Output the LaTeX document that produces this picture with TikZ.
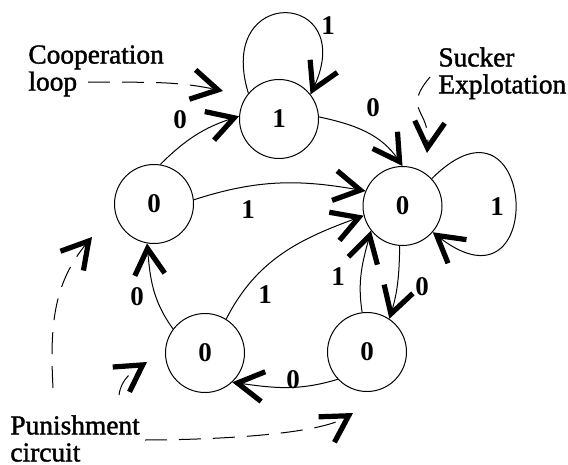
\documentclass[tikz,border=0pt]{standalone}
\usepackage{fontspec}
\setmainfont{Liberation Serif}
\newfontfamily\heavyserif{Liberation Serif}[FakeBold=1.5]
\usetikzlibrary{arrows.meta}
\tikzset{
  st/.style={circle,draw,line width=0.5pt,minimum size=39.5pt,inner sep=0pt,
    font=\fontsize{13.5}{13.5}\selectfont\bfseries},
  lbl/.style={inner sep=0pt,font=\fontsize{13.5}{13.5}\selectfont\bfseries},
  note/.style={inner sep=0pt,align=left,anchor=north west,
    font=\heavyserif\fontsize{13.7}{13.5}\selectfont},
  trans/.style={line width=0.5pt,-{Straight Barb[length=13pt,width=15pt,line width=2.6pt]}},
  hint/.style={trans,dash pattern=on 11pt off 6pt},
}

\begin{document}
\begin{tikzpicture}[x=0.5pt,y=-0.5pt]
    \useasboundingbox (0,0) rectangle (568,465);
    \node[st] (coop) at (279,119) {1};
    \node[st] (wait) at (154,204) {0};
    \node[st] (exploit) at (402.5,206) {0};
    \node[st] (punA) at (205,353) {0};
    \node[st] (punB) at (367,352) {0};
    \draw[trans] (coop.140) to[out=107,in=65,distance=57.5pt] (coop.38);
    \draw[trans] (exploit.43) to[out=45,in=-38,distance=74pt] (exploit.-41);
    \draw[trans] (wait.81) to[out=45,in=198] (coop.176);
    \draw[trans] (wait.6) to[out=18,in=170] (exploit.158);
    \draw[trans] (coop.3) to[out=-12,in=124] (exploit.90);
    \draw[trans] (punA.143) to[out=126,in=-85] (wait.260);
    \draw[trans] (punA.58) to[out=63,in=200] (exploit.194);
    \draw[trans] (punB.97) to[out=99,in=-105] (exploit.218);
    \draw[trans] (exploit.266) to[out=-91,in=73] (punB.56);
    \draw[trans] (punB.223) to[out=197,in=-8] (punA.313);
    \node[lbl] (loopc) at (328,26) {1};
    \node[lbl] (waitc) at (180,120) {0};
    \node[lbl] (coopd) at (373,108) {0};
    \node[lbl] (waitd) at (248,210) {1};
    \node[lbl] (loopd) at (497,207) {1};
    \node[lbl] (punAw) at (137,297) {0};
    \node[lbl] (punAx) at (265,295) {1};
    \node[lbl] (punBx) at (338,277) {1};
    \node[lbl] (exploitB) at (422,287) {0};
    \node[lbl] (punBA) at (293,380) {0};
    \node[note] (coopnote) at (28,45) {Cooperation\\loop};
    \node[note] (suckernote) at (438,47) {Sucker\\Explotation};
    \node[note] (punishnote) at (10,415) {Punishment\\circuit};
    \coordinate (coopa) at (88,82);
    \coordinate (coopb) at (223,91);
    \coordinate (suckera) at (430,77);
    \coordinate (suckerb) at (427,153);
    \coordinate (puna1) at (53,388);
    \coordinate (punb1) at (92,237);
    \coordinate (puna2) at (119,395);
    \coordinate (punb2) at (147,362);
    \coordinate (puna3) at (145,440);
    \coordinate (punb3) at (353,413);
    \draw[hint] (coopa) to[out=-1,in=168] (coopb);
    \draw[hint] (suckera) to[out=230,in=85,looseness=1.5] (suckerb);
    \draw[hint] (puna1) to[out=93,in=230] (punb1);
    \draw[hint] (puna2) to[out=82,in=214] (punb2);
    \draw[hint] (puna3) to[out=0,in=212,looseness=0.55] (punb3);
\end{tikzpicture}
\end{document}
